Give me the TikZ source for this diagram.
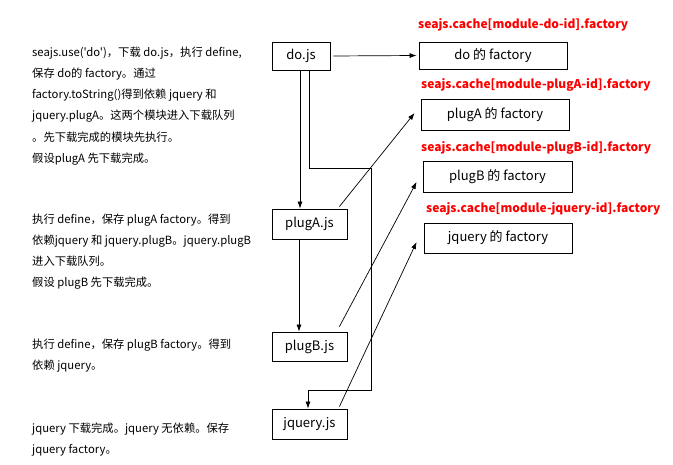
\documentclass[tikz,border=0pt]{standalone}
\usepackage{fontspec}
\setmainfont{Noto Sans CJK SC}[Ligatures=TeXOff]
\usetikzlibrary{arrows.meta}
\tikzset{
  box/.style={draw, line width=0.8pt, inner sep=0pt, font=\fontsize{13}{15}\selectfont},
  arr/.style={draw, line width=0.7pt, -{Latex[length=7pt,width=5pt]}},
  red label/.style={text=red, font=\fontsize{12}{13}\bfseries, inner sep=0pt, anchor=west},
  desc/.style={anchor=north west, inner sep=0pt, align=left, font=\fontsize{11.3}{21.2}\selectfont}
}
\begin{document}
\begin{tikzpicture}[x=1pt,y=-1pt]
\useasboundingbox (0,0) rectangle (673,465);
% left boxes
\node[box, minimum width=58pt, minimum height=28pt] (do) at (301,56) {do.js};
\node[box, minimum width=75pt, minimum height=30pt] (plugA) at (309.5,224) {plugA.js};
\node[box, minimum width=75pt, minimum height=29pt] (plugB) at (309.5,346.5) {plugB.js};
\node[box, minimum width=75pt, minimum height=30pt] (jq) at (309.5,424) {jquery.js};
% right boxes
\node[box, minimum width=148pt, minimum height=27pt] (dof) at (493,55.5) {do 的 factory};
\node[box, minimum width=148pt, minimum height=31pt] (pAf) at (495,114.5) {plugA 的 factory};
\node[box, minimum width=149pt, minimum height=31pt] (pBf) at (497.5,176.5) {plugB 的 factory};
\node[box, minimum width=148pt, minimum height=30pt] (jqf) at (498,238) {jquery 的 factory};
% red labels
\node[red label] (l1) at (418,25) {seajs.cache[module-do-id].factory};
\node[red label] (l2) at (421,85) {seajs.cache[module-plugA-id].factory};
\node[red label] (l3) at (421,148) {seajs.cache[module-plugB-id].factory};
\node[red label] (l4) at (426,209) {seajs.cache[module-jquery-id].factory};
% descriptions
\node[desc] (t1) at (32,46.5) {seajs.use('do')，下载 do.js，执行 define,\\保存 do的 factory。通过\\factory.toString()得到依赖 jquery 和\\jquery.plugA。这两个模块进入下载队列\\。先下载完成的模块先执行。\\假设plugA 先下载完成。};
\node[desc] (t2) at (32,213.5) {执行 define，保存 plugA factory。得到\\依赖jquery 和 jquery.plugB。jquery.plugB\\进入下载队列。\\假设 plugB 先下载完成。};
\node[desc] (t3) at (32,338.5) {执行 define，保存 plugB factory。得到\\依赖 jquery。};
\node[desc] (t4) at (32,422.5) {jquery 下载完成。jquery 无依赖。保存\\jquery factory。};
% connectors
\coordinate (c1) at (371,168);
\coordinate (c2) at (371,390);
\draw[arr] ([xshift=3pt]do.east) -- ([xshift=-2pt]dof.west);
\draw[arr] ([xshift=-1pt]do.south) -- ([xshift=-1pt]do.south |- plugA.north);
\draw[arr] ([xshift=8pt]do.south) |- (c1) -- (c2) -| ([xshift=-1.5pt]jq.north);
\draw[arr] ([xshift=-10.5pt]plugA.south) -- ([xshift=-10.5pt]plugB.north);
\draw[arr] ([xshift=-8pt,yshift=2pt]plugA.north east) -- ([xshift=-6pt,yshift=1.5pt]pAf.west);
\draw[arr] ([xshift=-8pt,yshift=5pt]plugB.north east) -- ([xshift=-6pt,yshift=-5.5pt]pBf.west);
\draw[arr] ([xshift=-8pt,yshift=2pt]jq.north east) -- ([xshift=-7pt,yshift=-4pt]jqf.west);
\end{tikzpicture}
\end{document}
